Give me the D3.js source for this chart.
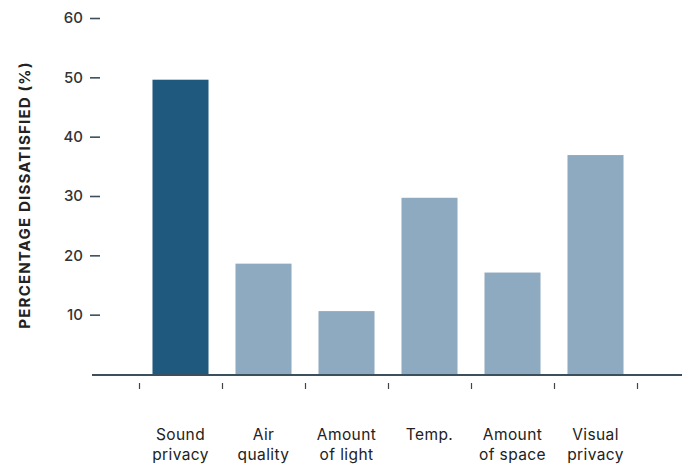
<!DOCTYPE html>
<html>
<head>
<meta charset="utf-8">
<script src="https://cdn.jsdelivr.net/npm/d3@7"></script>
<style>
  body { margin: 0; background: #fff; }
  text { font-family: Inter, "Open Sans", sans-serif; }
</style>
</head>
<body>
<svg id="chart" width="688" height="464"></svg>
<script>
// data
const categories = ["Sound privacy", "Air quality", "Amount of light", "Temp.", "Amount of space", "Visual privacy"];
const labelLines = [["Sound", "privacy"], ["Air", "quality"], ["Amount", "of light"], ["Temp."], ["Amount", "of space"], ["Visual", "privacy"]];
const dissatisfied = [49.6, 18.6, 10.6, 29.7, 17.1, 36.9];
const yTicks = [10, 20, 30, 40, 50, 60];

const svg = d3.select("#chart");

let x = d3.scaleBand()
    .domain(categories)
    .range([139, 637])
    .paddingInner(0.325)
    .paddingOuter(0.1625);

let y = d3.scaleLinear()
    .domain([0, 60])
    .range([374, 18]);

// y axis: dashes + numbers, no domain line
let yAxis = svg.append("g")
    .attr("transform", "translate(100,0)")
    .call(d3.axisLeft(y).tickValues(yTicks).tickSize(10).tickPadding(7));
yAxis.select(".domain").remove();
yAxis.selectAll("line").attr("stroke", "#3d4f5c").attr("stroke-width", 1.6);
yAxis.selectAll("text")
    .attr("fill", "#333")
    .style("font-size", "15px")
    .style("font-weight", 500)
    .style("font-family", "Inter, sans-serif");

svg.append("text")
    .attr("transform", "translate(30,195) rotate(-90)")
    .attr("text-anchor", "middle")
    .style("font-size", "15px")
    .style("font-weight", 700)
    .style("letter-spacing", "1.2px")
    .attr("fill", "#222")
    .text("PERCENTAGE DISSATISFIED (%)");

// bars
svg.selectAll("rect.bar")
    .data(dissatisfied)
    .enter().append("rect")
    .attr("class", "bar")
    .attr("x", (d, i) => x(categories[i]))
    .attr("width", x.bandwidth())
    .attr("y", d => y(d))
    .attr("height", d => y(0) - y(d))
    .attr("fill", (d, i) => i == 0 ? "#1f5a7e" : "#8eaac0");

// baseline
svg.append("line")
    .attr("x1", 92).attr("x2", 682)
    .attr("y1", y(0) + 1).attr("y2", y(0) + 1)
    .attr("stroke", "#3b4f5d")
    .attr("stroke-width", 2);

// small ticks between the bars
let edges = d3.scaleLinear().domain([0, categories.length]).range(x.range());
let xAxis = svg.append("g")
    .attr("transform", "translate(0,383)")
    .call(d3.axisBottom(edges).tickValues(d3.range(categories.length + 1)).tickFormat("").tickSize(6));
xAxis.select(".domain").remove();
xAxis.selectAll("line").attr("stroke", "#444").attr("stroke-width", 1.2);

// two-line category labels
let labels = svg.selectAll("text.cat")
    .data(labelLines)
    .enter().append("text")
    .attr("class", "cat")
    .attr("text-anchor", "middle")
    .attr("x", (d, i) => x(categories[i]) + x.bandwidth() / 2)
    .attr("y", 440)
    .attr("fill", "#222")
    .style("font-size", "15.5px")
    .style("letter-spacing", "0.4px");

labels.selectAll("tspan")
    .data(d => d)
    .enter().append("tspan")
    .attr("x", function() { return d3.select(this.parentNode).attr("x"); })
    .attr("dy", (d, i) => i == 0 ? 0 : 20)
    .text(d => d);
</script>
</body>
</html>
